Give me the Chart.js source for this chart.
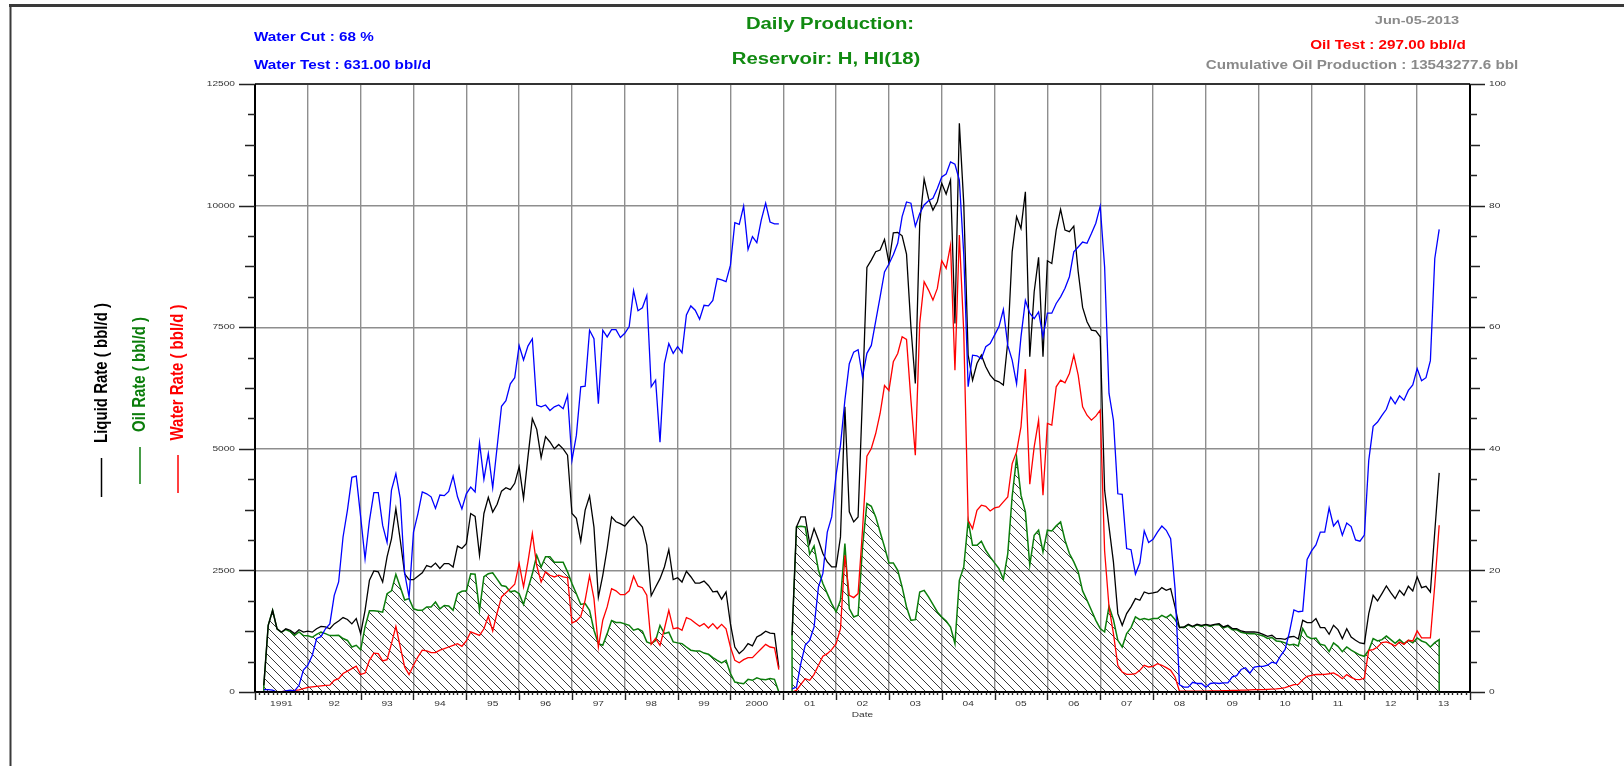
<!DOCTYPE html>
<html>
<head>
<meta charset="utf-8">
<title>Daily Production</title>
<script src="https://cdn.jsdelivr.net/npm/chart.js@4.4.0/dist/chart.umd.min.js"></script>
<style>
  html, body { margin: 0; padding: 0; background: #fff; }
  #wrap { position: relative; width: 1624px; height: 766px; }
</style>
</head>
<body>
<div id="wrap"><canvas id="prod"></canvas></div>
<script>
// x axis: one label per calendar year, gridline at each year boundary
const yearLabels = ['1991', '92', '93', '94', '95', '96', '97', '98', '99', '2000',
  '01', '02', '03', '04', '05', '06', '07', '08', '09', '10', '11', '12', '13'];
const rateTicks = [0, 2500, 5000, 7500, 10000, 12500];
const cutTicks = [0, 20, 40, 60, 80, 100];

// two monthly blocks: Mar 1991 - Dec 2000, then Mar 2001 - Jun 2013
const blockStarts = [[1991, 3], [2001, 3]];

// liquid rate, bbl/d
const liquid1 = [
  137, 1370, 1680, 1300, 1230, 1300, 1270, 1200, 1280, 1230,
  1250, 1230, 1300, 1350, 1340, 1300, 1400, 1460, 1530, 1490,
  1400, 1510, 1200, 1680, 2300, 2490, 2470, 2260, 2780, 3150,
  3770, 3120, 2430, 2310, 2310, 2380, 2450, 2600, 2570, 2650,
  2540, 2640, 2640, 2570, 3000, 2950, 3050, 3670, 3610, 2810,
  3670, 4000, 3700, 3860, 4130, 4200, 4160, 4290, 4630, 3980,
  4830, 5620, 5400, 4820, 5250, 5140, 5000, 5090, 5000, 4870,
  3670, 3570, 3100, 3740, 4030, 3390, 1950, 2400, 2950, 3600,
  3500, 3460, 3410, 3520, 3610, 3500, 3390, 3020, 1980, 2160,
  2330, 2570, 2930, 2310, 2350, 2260, 2480, 2370, 2240, 2240,
  2280, 2190, 2060, 2070, 1910, 2060, 1400, 925, 790, 870,
  995, 950, 1130, 1180, 1250, 1210, 1200, 500
];
const liquid2 = [
  1166, 3394, 3600, 3600, 3050, 3360, 3120, 2846, 2674, 2571,
  2571, 3189, 5863, 3703, 3497, 3600, 6100, 8729, 8880, 9051,
  9086, 9305, 8825, 9442, 9449, 9380, 9003, 7500, 6343, 9634,
  10546, 10148, 9908, 10080, 10457, 10238, 10526, 7577, 11691, 10046,
  6926, 6411, 6754, 6926, 6686, 6514, 6411, 6377, 6309, 7200,
  9051, 9771, 9531, 10285, 6891, 8228, 8935, 6891, 8866, 8811,
  9497, 9922, 9497, 9463, 9579, 8640, 7906, 7611, 7440, 7426,
  7303, 4149, 3394, 2674, 1611, 1371, 1611, 1749, 1920, 1886,
  2057, 2023, 2036, 2057, 2146, 2091, 2126, 1749, 1323, 1337,
  1392, 1351, 1392, 1371, 1392, 1371, 1392, 1406, 1337, 1371,
  1303, 1303, 1255, 1234, 1234, 1234, 1220, 1186, 1145, 1166,
  1097, 1097, 1083, 1131, 1145, 1090, 1474, 1426, 1426, 1509,
  1323, 1323, 1186, 1371, 1282, 1097, 1303, 1131, 1063, 1008,
  994, 1611, 1989, 1872, 2023, 2180, 2043, 1920, 2091, 1989,
  2174, 2077, 2366, 2146, 2174, 2057, 3300, 4505
];

// oil rate, bbl/d
const oil1 = [
  137, 1370, 1680, 1300, 1225, 1285, 1245, 1165, 1235, 1160,
  1155, 1125, 1185, 1230, 1200, 1160, 1160, 1165, 1100, 1060,
  925, 960, 870, 1340, 1670, 1670, 1660, 1640, 2020, 2080,
  2420, 2160, 1890, 1920, 1710, 1680, 1680, 1750, 1750, 1850,
  1710, 1780, 1770, 1680, 2020, 2070, 2080, 2430, 2420, 1680,
  2370, 2430, 2450, 2320, 2190, 2170, 2060, 2080, 2020, 1800,
  2120, 2430, 2810, 2570, 2780, 2780, 2670, 2670, 2670, 2470,
  2230, 2020, 1800, 1820, 1680, 1270, 995, 960, 1200, 1470,
  1430, 1430, 1400, 1370, 1270, 1300, 1250, 1030, 995, 1060,
  1370, 1200, 1230, 1030, 1010, 995, 925, 860, 845, 845,
  800, 775, 705, 650, 600, 650, 380, 205, 185, 170,
  260, 240, 290, 260, 250, 275, 260, 0
];
const oil2 = [
  1166, 3394, 3408, 3394, 2832, 3003, 2503, 2229, 2023, 1817,
  1646, 1886, 3051, 1714, 1543, 1577, 2983, 3874, 3819, 3600,
  3291, 2983, 2654, 2654, 2503, 2160, 1749, 1474, 1488, 2057,
  2091, 1954, 1803, 1646, 1543, 1460, 1337, 994, 2297, 2571,
  3517, 3017, 3017, 3099, 2914, 2777, 2654, 2537, 2318, 2846,
  4025, 4820, 4046, 3703, 2606, 3223, 3326, 2880, 3326, 3312,
  3415, 3497, 3120, 2846, 2674, 2469, 2078, 1886, 1680, 1474,
  1303, 1234, 1762, 1488, 1063, 926, 1200, 1323, 1543, 1488,
  1509, 1488, 1509, 1509, 1577, 1530, 1591, 1488, 1337, 1323,
  1380, 1340, 1380, 1350, 1380, 1350, 1380, 1390, 1320, 1350,
  1280, 1280, 1230, 1210, 1200, 1200, 1180, 1152, 1100, 1120,
  1050, 1040, 1010, 965, 980, 946, 1303, 1140, 1097, 1110,
  980, 960, 830, 1008, 940, 830, 926, 860, 810, 760,
  734, 857, 1097, 1049, 1077, 1150, 1077, 1000, 1077, 994,
  1063, 1010, 1111, 1049, 1015, 926, 1015, 1077
];

// water rate, bbl/d
const water1 = [
  0, 0, 0, 0, 5, 15, 25, 35, 45, 70,
  95, 105, 115, 125, 135, 140, 240, 275, 380, 430,
  480, 530, 360, 390, 650, 800, 790, 640, 665, 995,
  1350, 925, 515, 360, 550, 720, 860, 845, 810, 810,
  860, 890, 925, 960, 995, 940, 1050, 1235, 1200, 1165,
  1300, 1555, 1255, 1625, 1955, 2040, 2125, 2215, 2640, 2160,
  2675, 3257, 2600, 2260, 2470, 2400, 2365, 2400, 2365, 2350,
  1420, 1460, 1555, 1890, 2390, 1920, 925, 1475, 1750, 2125,
  2080, 2000, 2000, 2080, 2380, 2175, 2145, 1990, 980, 1100,
  960, 1300, 1680, 1300, 1320, 1270, 1530, 1490, 1420, 1350,
  1405, 1315, 1405, 1300, 1390, 1300, 925, 650, 600, 665,
  705, 705, 800, 890, 980, 925, 910, 460
];
const water2 = [
  0, 34, 158, 274, 240, 363, 549, 734, 789, 871,
  994, 1303, 2811, 1989, 1941, 2023, 3326, 4848, 5006, 5314,
  5726, 6300, 6200, 6789, 6960, 7303, 7248, 6000, 4869, 7577,
  8434, 8263, 8057, 8297, 8866, 8708, 9188, 6617, 9394, 7400,
  3531, 3360, 3737, 3840, 3819, 3723, 3785, 3806, 3909, 4011,
  4697, 4937, 5451, 6638, 4272, 5040, 5589, 4046, 5520, 5486,
  6274, 6411, 6356, 6549, 6926, 6514, 5863, 5691, 5589, 5671,
  5794, 2900, 1749, 1200, 549, 411, 363, 363, 377, 446,
  549, 514, 528, 583, 549, 500, 446, 309, 20, 20,
  20, 20, 20, 20, 20, 25, 25, 25, 30, 30,
  34, 34, 38, 40, 45, 48, 48, 50, 55, 60,
  65, 75, 89, 120, 150, 155, 250, 322, 340, 363,
  360, 363, 375, 391, 343, 274, 357, 300, 260, 254,
  288, 857, 871, 926, 1015, 1029, 994, 946, 1029, 980,
  1063, 1049, 1255, 1111, 1111, 1111, 2200, 3428
];

// water cut, % (right axis)
const cut1 = [
  0.4, 0.4, 0.3, 0, 0, 0.2, 0.3, 0.2, 1.1, 3.6,
  4.4, 6.0, 8.8, 9.1, 10.4, 11.2, 15.9, 18.1, 25.5, 29.9,
  35.3, 35.5, 28.8, 21.9, 28.2, 32.8, 32.8, 27.4, 24.6, 33.2,
  35.9, 31.8, 19.5, 15.6, 26.3, 29.3, 32.9, 32.6, 32.1, 30.2,
  32.4, 32.3, 33.0, 35.5, 32.1, 30.1, 32.6, 33.7, 32.9, 41.0,
  35.0, 39.2, 33.6, 40.3, 47.0, 47.9, 50.7, 51.7, 57.0, 54.6,
  56.9, 58.1, 47.2, 46.9, 47.2, 46.3, 46.9, 47.2, 46.6, 48.8,
  38.1, 42.2, 50.2, 50.3, 59.5, 58.1, 47.4, 59.5, 58.4, 59.6,
  59.6, 58.3, 59.0, 60.1, 66.0, 62.7, 63.2, 65.2, 50.2, 51.3,
  41.1, 54.0, 57.3, 55.7, 56.8, 55.8, 62.0, 63.5, 62.8, 61.3,
  63.6, 63.5, 64.4, 68.0, 67.8, 67.5, 70.2, 77.2, 76.9, 79.9,
  72.8, 74.9, 73.9, 77.6, 80.4, 77.3, 77.0, 77.0
];
const cut2 = [
  0.5, 0.8, 4.7, 7.7, 8.5, 10.7, 17.3, 19.5, 26.3, 28.8,
  35.7, 40.6, 48.0, 54.0, 55.9, 56.3, 51.8, 55.7, 57.0, 61.0,
  65.0, 69.1, 70.4, 71.9, 73.8, 78.2, 80.6, 80.4, 76.6, 78.7,
  80.1, 80.8, 81.2, 82.8, 84.7, 85.2, 87.2, 86.8, 84.2, 72.0,
  50.2, 55.4, 55.3, 54.8, 56.8, 57.3, 58.7, 60.1, 62.9, 57.0,
  54.6, 50.7, 58.4, 64.4, 62.3, 61.4, 62.5, 58.4, 62.3, 62.3,
  63.9, 65.0, 66.4, 68.3, 72.4, 73.2, 74.0, 73.8, 75.4, 77.1,
  79.9, 69.9, 49.1, 44.7, 32.6, 32.5, 23.6, 23.4, 19.4, 21.2,
  26.5, 24.6, 25.1, 26.3, 27.3, 26.6, 25.2, 17.0, 1.2, 0.8,
  0.8, 1.6, 1.4, 1.4, 0.8, 1.4, 1.5, 1.4, 1.5, 1.5,
  2.5, 2.7, 3.7, 4.0, 3.1, 4.1, 4.2, 4.2, 4.4, 4.9,
  4.7, 6.0, 7.0, 9.9, 13.5, 13.2, 13.3, 21.8, 23.2, 24.2,
  26.3, 26.3, 30.3, 27.3, 28.2, 25.8, 27.8, 27.2, 25.0, 24.8,
  25.8, 38.1, 43.7, 44.4, 45.5, 46.5, 48.5, 47.4, 48.7, 48.0,
  49.6, 50.5, 53.2, 51.2, 51.7, 54.5, 71.3, 76.1
];

// header texts
const headerLeft = ['Water Cut : 68 %', 'Water Test : 631.00 bbl/d'];
const headerTitle = ['Daily Production:', 'Reservoir: H, HI(18)'];
const headerDate = 'Jun-05-2013';
const headerOilTest = 'Oil Test : 297.00 bbl/d';
const headerCumulative = 'Cumulative Oil Production : 13543277.6 bbl';

const GREEN = '#0b7d0b';
const TITLE_GREEN = '#118a11';
const GRID = '#8e8e8e';
const FONT = '"Liberation Sans", Arial, sans-serif';
const SX = 1.27; // text in this report is drawn horizontally widened

function monthX(year, month) {
  return year + (month - 1) / 12;
}

// turn the two monthly blocks into {x, y} points with a break between them
function toPoints(blocks, closeToZero) {
  const pts = [];
  blocks.forEach((vals, b) => {
    const [y0, m0] = blockStarts[b];
    const xs = vals.map((_, i) => monthX(y0, m0 + i));
    if (b > 0) pts.push({ x: xs[0] - 1 / 12, y: null });
    if (closeToZero) pts.push({ x: xs[0], y: 0 });
    vals.forEach((v, i) => pts.push({ x: xs[i], y: v }));
    if (closeToZero) pts.push({ x: xs[xs.length - 1], y: 0 });
  });
  return pts;
}

function makeHatch() {
  const s = 9;
  const c = document.createElement('canvas');
  c.width = s; c.height = s;
  const g = c.getContext('2d');
  g.strokeStyle = '#3a3a3a';
  g.lineWidth = 1;
  g.beginPath();
  g.moveTo(-1, -1); g.lineTo(s + 1, s + 1);
  g.moveTo(-1, s - 1); g.lineTo(1, s + 1);
  g.moveTo(s - 1, -1); g.lineTo(s + 1, 1);
  g.stroke();
  return g.createPattern(c, 'repeat');
}

function wideText(ctx, text, x, y, font, color, align) {
  ctx.save();
  ctx.font = font;
  ctx.fillStyle = color;
  ctx.textAlign = align || 'left';
  ctx.textBaseline = 'middle';
  ctx.translate(x, y);
  ctx.scale(SX, 1);
  ctx.fillText(text, 0, 0);
  ctx.restore();
}

function tick(ctx, x1, y1, x2, y2) {
  ctx.moveTo(x1, y1);
  ctx.lineTo(x2, y2);
}

// frame, tick marks and axis labels
const axisDecor = {
  id: 'axisDecor',
  afterDatasetsDraw(chart) {
    const { ctx, chartArea: a, scales } = chart;
    const x = scales.x, y = scales.y, y2 = scales.y2;
    ctx.save();

    // plot frame
    ctx.strokeStyle = '#333';
    ctx.lineWidth = 2;
    ctx.beginPath();
    tick(ctx, a.left, a.top, a.right, a.top);
    ctx.stroke();
    ctx.strokeStyle = '#000';
    ctx.beginPath();
    tick(ctx, a.left, a.top, a.left, a.bottom);
    tick(ctx, a.right, a.top, a.right, a.bottom);
    tick(ctx, a.left, a.bottom, a.right, a.bottom);
    ctx.stroke();

    // left axis ticks, every quarter of the 2500 step
    ctx.lineWidth = 1.4;
    ctx.strokeStyle = '#222';
    ctx.beginPath();
    for (let v = 0; v <= 12500; v += 625) {
      const len = v % 2500 === 0 ? 16 : (v % 1250 === 0 ? 10 : 7);
      const py = Math.round(y.getPixelForValue(v)) + 0.5;
      tick(ctx, a.left - len, py, a.left, py);
    }
    // right axis ticks
    for (let v = 0; v <= 100; v += 5) {
      const len = v % 20 === 0 ? 15 : (v % 10 === 0 ? 10 : 7);
      const py = Math.round(y2.getPixelForValue(v)) + 0.5;
      tick(ctx, a.right, py, a.right + len, py);
    }
    ctx.stroke();

    // bottom axis: years and months
    ctx.beginPath();
    for (let yr = 1991; yr <= 2014; yr++) {
      const px = Math.round(x.getPixelForValue(yr)) + 0.5;
      tick(ctx, px, a.bottom, px, a.bottom + 8);
      if (yr < 2014) {
        for (let m = 1; m < 12; m++) {
          const mx = Math.round(x.getPixelForValue(yr + m / 12)) + 0.5;
          tick(ctx, mx, a.bottom, mx, a.bottom + 3);
        }
      }
    }
    ctx.stroke();

    const tickFont = '8px ' + FONT;
    rateTicks.forEach(v => {
      wideText(ctx, String(v), a.left - 20, y.getPixelForValue(v), tickFont, '#333', 'right');
    });
    cutTicks.forEach(v => {
      wideText(ctx, String(v), a.right + 19, y2.getPixelForValue(v), tickFont, '#333', 'left');
    });
    yearLabels.forEach((lab, i) => {
      wideText(ctx, lab, x.getPixelForValue(1991 + i + 0.5), a.bottom + 12, tickFont, '#333', 'center');
    });
    wideText(ctx, 'Date', (a.left + a.right) / 2, a.bottom + 23, tickFont, '#333', 'center');
    ctx.restore();
  },
  afterDraw(chart) {
    const ctx = chart.ctx;
    ctx.save();

    // outer border of the report
    ctx.strokeStyle = '#3a3a3a';
    ctx.lineWidth = 3;
    ctx.beginPath();
    tick(ctx, 9, 5.5, 1624, 5.5);
    ctx.stroke();
    ctx.lineWidth = 2;
    ctx.beginPath();
    tick(ctx, 10.5, 5, 10.5, 766);
    ctx.stroke();

    const bold12 = 'bold 12px ' + FONT;
    wideText(ctx, headerLeft[0], 254, 37.5, bold12, '#0000ff', 'left');
    wideText(ctx, headerLeft[1], 254, 66, bold12, '#0000ff', 'left');
    wideText(ctx, headerTitle[0], 830, 24.5, 'bold 16px ' + FONT, TITLE_GREEN, 'center');
    wideText(ctx, headerTitle[1], 826, 59.5, 'bold 16px ' + FONT, TITLE_GREEN, 'center');
    wideText(ctx, headerDate, 1417, 20.5, 'bold 11.5px ' + FONT, '#8a8a8a', 'center');
    wideText(ctx, headerOilTest, 1388, 45.5, bold12, '#ff0000', 'center');
    wideText(ctx, headerCumulative, 1362, 66, bold12, '#8a8a8a', 'center');

    // vertical series captions with their line keys
    const captions = [
      { text: 'Liquid Rate ( bbl/d )', x: 101.5, yc: 373, color: '#000', key: [458, 497] },
      { text: 'Oil Rate ( bbl/d )', x: 140, yc: 374.5, color: GREEN, key: [447, 484] },
      { text: 'Water Rate ( bbl/d )', x: 178, yc: 372.5, color: '#ff0000', key: [455, 493] }
    ];
    captions.forEach(c => {
      ctx.save();
      ctx.font = 'bold 15px ' + FONT;
      ctx.fillStyle = c.color;
      ctx.textAlign = 'center';
      ctx.textBaseline = 'middle';
      ctx.translate(c.x, c.yc);
      ctx.scale(SX, 1);
      ctx.rotate(-Math.PI / 2);
      ctx.fillText(c.text, 0, 0);
      ctx.restore();
      ctx.strokeStyle = c.color;
      ctx.lineWidth = 1.5;
      ctx.beginPath();
      tick(ctx, c.x, c.key[0], c.x, c.key[1]);
      ctx.stroke();
    });
    ctx.restore();
  }
};

const years = [];
for (let yr = 1991; yr <= 2014; yr++) years.push(yr);

const lineBase = { pointRadius: 0, borderWidth: 1.3, tension: 0, spanGaps: false, fill: false };

new Chart(document.getElementById('prod'), {
  type: 'line',
  data: {
    datasets: [
      Object.assign({}, lineBase, {
        label: 'Water Cut', data: toPoints([cut1, cut2]), yAxisID: 'y2',
        borderColor: '#0000ff', order: 0
      }),
      Object.assign({}, lineBase, {
        label: 'Water Rate', data: toPoints([water1, water2]), yAxisID: 'y',
        borderColor: '#ff0000', order: 1
      }),
      Object.assign({}, lineBase, {
        label: 'Liquid Rate', data: toPoints([liquid1, liquid2]), yAxisID: 'y',
        borderColor: '#000000', order: 2
      }),
      Object.assign({}, lineBase, {
        label: 'Oil Rate', data: toPoints([oil1, oil2], true), yAxisID: 'y',
        borderColor: GREEN, borderWidth: 1.5, backgroundColor: makeHatch(),
        fill: 'origin', order: 3
      })
    ]
  },
  options: {
    responsive: true,
    maintainAspectRatio: false,
    animation: false,
    layout: { padding: { top: 84, left: 0, right: 0, bottom: 0 } },
    plugins: { legend: { display: false }, tooltip: { enabled: false } },
    scales: {
      x: {
        type: 'linear', min: 1991, max: 2014,
        afterBuildTicks: s => { s.ticks = years.map(v => ({ value: v })); },
        afterFit: s => { s.height = 74; },
        ticks: { display: false },
        grid: { color: GRID, lineWidth: 1.4, drawTicks: false },
        border: { display: false }
      },
      y: {
        position: 'left', min: 0, max: 12500,
        afterBuildTicks: s => { s.ticks = rateTicks.map(v => ({ value: v })); },
        afterFit: s => { s.width = 255; },
        ticks: { display: false },
        grid: { color: GRID, lineWidth: 1.4, drawTicks: false },
        border: { display: false }
      },
      y2: {
        position: 'right', min: 0, max: 100,
        afterBuildTicks: s => { s.ticks = cutTicks.map(v => ({ value: v })); },
        afterFit: s => { s.width = 154; },
        ticks: { display: false },
        grid: { display: false },
        border: { display: false }
      }
    }
  },
  plugins: [axisDecor]
});
</script>
</body>
</html>
